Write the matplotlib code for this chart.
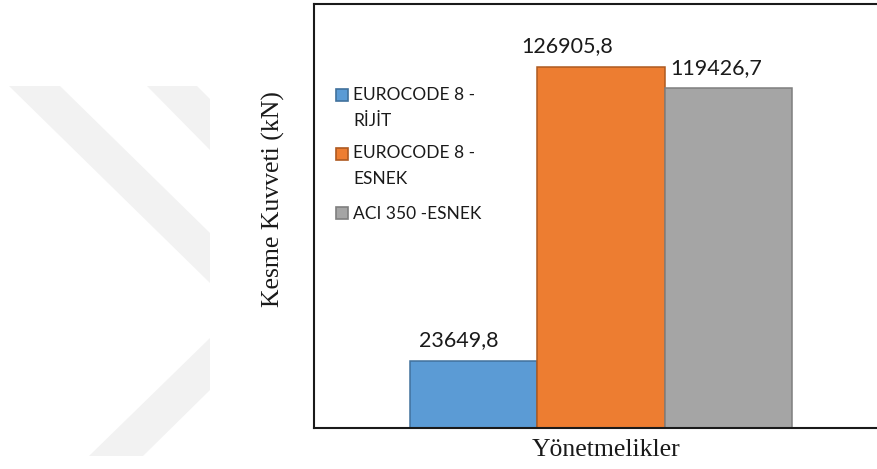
import matplotlib
matplotlib.use("Agg")
import matplotlib.pyplot as plt
from matplotlib.patches import Polygon, Rectangle

# Data
series_names = ["EUROCODE 8 -\nRİJİT", "EUROCODE 8 -\nESNEK", "ACI 350 -ESNEK"]
shear_values = [23649.8, 126905.8, 119426.7]
value_labels = ["23649,8", "126905,8", "119426,7"]
x_title = "Yönetmelikler"
y_title = "Kesme Kuvveti (kN)"

face_colors = ["#5B9BD5", "#ED7D31", "#A5A5A5"]
edge_colors = ["#41719C", "#AE5A21", "#7F7F7F"]

W, H = 877, 469
fig = plt.figure(figsize=(W / 100, H / 100), dpi=100)
fig.patch.set_facecolor("white")


def fx(px):
    return px / W


def fy(py):
    return 1 - py / H


# faint background logo bands
logo_color = "#f2f2f2"
bands = [
    [(9, 86), (60, 86), (210, 233), (210, 283)],
    [(147, 86), (197, 86), (210, 99), (210, 150)],
    [(210, 338), (210, 390), (143, 456), (89, 456)],
]
for pts in bands:
    fig.patches.append(Polygon([(fx(a), fy(b)) for a, b in pts], closed=True,
                               transform=fig.transFigure, facecolor=logo_color,
                               edgecolor="none", zorder=0))

# axes: left edge at 314 px, top at 4 px, bottom at 428 px, runs off the right side
ax_left, ax_right, ax_top, ax_bottom = 314, 890, 4, 428
ax = fig.add_axes([fx(ax_left), fy(ax_bottom), (ax_right - ax_left) / W,
                   (ax_bottom - ax_top) / H])
ax.set_facecolor("none")

positions = [0, 1, 2]
ax.bar(positions, shear_values, width=1.0, color=face_colors,
       edgecolor=edge_colors, linewidth=1.1, zorder=2)

unit = 127.5
ax.set_xlim(0 - (473.5 - ax_left) / unit, (ax_right - 473.5) / unit)
ax.set_ylim(0, 149000)

ax.set_xticks([])
ax.set_yticks([])
for side in ["left", "top", "bottom"]:
    ax.spines[side].set_color("#1a1a1a")
    ax.spines[side].set_linewidth(1.5)
ax.spines["right"].set_visible(False)

# value labels above the bars
label_font = dict(family="Lato", size=15.5, color="#1a1a1a")
label_shift = [-15, -34, -12]
for xpos, val, txt, dx in zip(positions, shear_values, value_labels, label_shift):
    ax.annotate(txt, xy=(xpos, val), xytext=(dx * 0.72, 7.5),
                textcoords="offset points", ha="center", va="bottom",
                **label_font)

# legend drawn as colour squares with two-line text
legend_font = dict(family="Lato", size=12.5, color="#1a1a1a")
entry_rows = [(95.5, 120.5), (153.5, 178.5), (213.5,)]
for name, fc, ec, rows in zip(series_names, face_colors, edge_colors, entry_rows):
    sq = 12
    fig.patches.append(Rectangle((fx(336), fy(rows[0] + sq / 2)), sq / W, sq / H,
                                 transform=fig.transFigure, facecolor=fc,
                                 edgecolor=ec, linewidth=1.2, zorder=3))
    for line, ry in zip(name.split("\n"), rows):
        fig.text(fx(353), fy(ry), line, ha="left", va="center", **legend_font)

# axis titles
title_font = dict(family="Liberation Serif", size=18.5, color="#1a1a1a")
fig.text(fx(606), fy(450), x_title, ha="center", va="center", **title_font)
fig.text(fx(273), fy(199), y_title, ha="center", va="center", rotation=90,
         **title_font)

fig.savefig("out.png", dpi=100, facecolor="white")
